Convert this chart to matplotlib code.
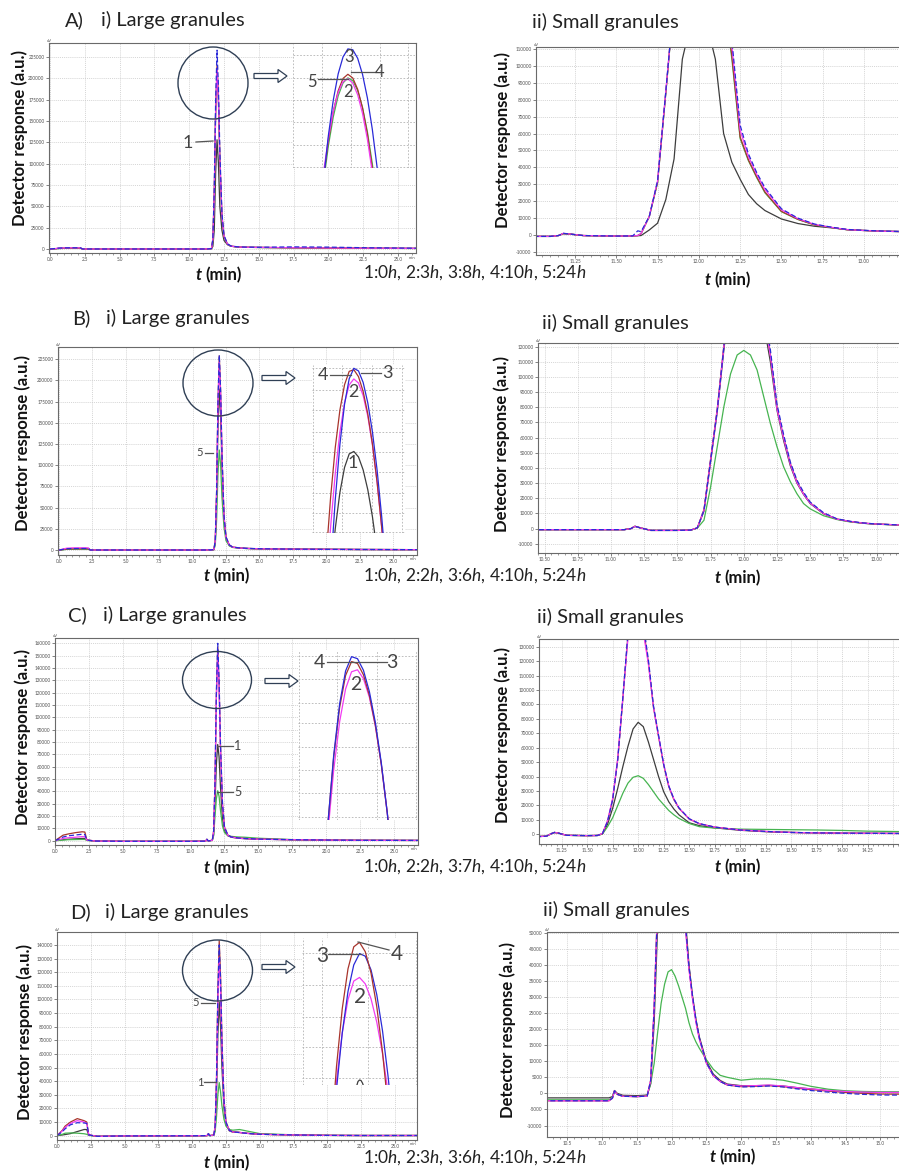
import matplotlib
matplotlib.use("Agg")
import matplotlib.pyplot as plt
import matplotlib.patches as mpatches
from matplotlib.ticker import MultipleLocator, FormatStrFormatter, FuncFormatter

plt.rcParams['font.family'] = ['Lato', 'DejaVu Sans']
plt.rcParams['mathtext.fontset'] = 'custom'
plt.rcParams['mathtext.rm'] = 'Lato'
plt.rcParams['mathtext.it'] = 'Lato:italic'
plt.rcParams['mathtext.bf'] = 'Lato:bold'

# ---------------------------------------------------------------- data
# series keys: 1 = 0 h (black), 2 = pink, 3 = blue, 4 = red, 5 = green
legend_A = r"1:0$h$, 2:3$h$, 3:8$h$, 4:10$h$, 5:24$h$"
legend_B = r"1:0$h$, 2:2$h$, 3:6$h$, 4:10$h$, 5:24$h$"
legend_C = r"1:0$h$, 2:2$h$, 3:7$h$, 4:10$h$, 5:24$h$"
legend_D = r"1:0$h$, 2:3$h$, 3:6$h$, 4:10$h$, 5:24$h$"

# ---- large granules (full run, 0-27 min)
t_large = [0.0, 0.4, 0.6, 1.0, 1.5, 2.0, 2.2, 2.35, 3.0, 5.0, 10.0, 11.1, 11.2, 11.3, 11.6, 11.7,
           11.8, 11.9, 12.0, 12.1, 12.2, 12.35, 12.5, 12.75, 13.0, 13.5, 14.0, 15.0, 17.5, 20.0, 22.5, 27.0]

A_L_black = [0, 300, 500, 700, 800, 800, 700, 0, 0, 0, 0, 0, 200, 0, 300, 3000, 22000, 90000, 128000, 100000, 50000, 22000, 10000, 5000, 3200, 2300, 2000, 1800, 1400, 1100, 900, 600]
A_L_pink = [0, 500, 900, 1200, 1300, 1300, 1200, 0, 0, 0, 0, 0, 200, 0, 400, 11000, 64000, 160000, 212000, 174000, 107000, 40000, 15000, 5800, 3400, 2400, 2100, 1900, 1500, 1200, 1000, 700]
A_L_blue = [0, 600, 1000, 1300, 1400, 1400, 1300, 0, 0, 0, 0, 0, 300, 0, 500, 12000, 70000, 175000, 233000, 190000, 115000, 42000, 16000, 6000, 3500, 2500, 2200, 2000, 2500, 2200, 1500, 800]
A_L_red = [0, 400, 800, 1000, 1100, 1100, 1000, 0, 0, 0, 0, 0, 200, 0, 400, 11000, 65000, 162000, 215000, 176000, 106000, 39000, 14500, 5600, 3300, 2300, 2000, 1800, 1400, 1100, 900, 600]
A_L_green = [0, 300, 600, 800, 900, 900, 800, 0, 0, 0, 0, 0, 200, 0, 400, 11000, 64000, 160000, 212500, 173000, 105000, 39000, 14500, 5600, 3300, 2300, 2000, 1800, 1400, 1100, 900, 600]

B_L_black = [0, 600, 1000, 1200, 1300, 1300, 1200, 0, 0, 0, 0, 0, 300, 0, 400, 10000, 60000, 145000, 190000, 158000, 98000, 37000, 14000, 5500, 3300, 2300, 1800, 1400, 1000, 800, 600, 400]
B_L_pink = [0, 1500, 2200, 2500, 2600, 2600, 2500, 0, 0, 0, 0, 0, 400, 0, 500, 11500, 67000, 168000, 222000, 182000, 110000, 40000, 15000, 5800, 3400, 2400, 1900, 1400, 1000, 800, 600, 400]
B_L_blue = [0, 1000, 1500, 1700, 1800, 1800, 1700, 0, 0, 0, 0, 0, 400, 0, 500, 12000, 70000, 175000, 230000, 188000, 114000, 41000, 15500, 6000, 3500, 2500, 2000, 1500, 1000, 800, 600, 400]
B_L_red = [0, 800, 1200, 1400, 1500, 1500, 1400, 0, 0, 0, 0, 0, 400, 0, 500, 12000, 70000, 174000, 229000, 186000, 112000, 40500, 15200, 5900, 3400, 2400, 1900, 1400, 1000, 800, 600, 400]
B_L_green = [0, 500, 800, 1000, 1100, 1100, 1000, 0, 0, 0, 0, 0, 300, 0, 300, 6000, 36000, 90000, 118000, 100000, 62000, 27000, 11000, 4800, 3000, 2200, 1800, 1400, 1000, 800, 600, 400]

C_L_black = [0, 500, 800, 1200, 1500, 1800, 1800, 300, -300, -500, -500, -400, 800, -200, 300, 5000, 30000, 62000, 78000, 68000, 44000, 18000, 8000, 4000, 2800, 2000, 1600, 1200, 700, 400, 300, 200]
C_L_pink = [0, 1200, 1800, 2400, 2800, 3300, 3200, 400, -300, -500, -500, -400, 1000, -200, 300, 7500, 46000, 114000, 152000, 124000, 76000, 29000, 10500, 4400, 2900, 2100, 1700, 1200, 800, 500, 300, 200]
C_L_blue = [0, 2000, 3000, 4000, 4600, 5200, 5000, 500, -300, -500, -500, -400, 1200, -200, 300, 8000, 49000, 120000, 160000, 130000, 80000, 30500, 11000, 4500, 3000, 2200, 1800, 1300, 800, 500, 300, 200]
C_L_red = [0, 3000, 4500, 5500, 6500, 7200, 7000, 600, -300, -500, -500, -400, 1200, -200, 300, 8000, 48000, 118000, 157000, 128000, 78000, 30000, 11000, 4500, 3000, 2200, 1800, 1300, 800, 500, 300, 200]
C_L_green = [0, 300, 500, 800, 900, 1000, 1000, 200, -300, -500, -500, -400, 600, -200, 200, 4000, 20000, 34000, 40500, 36000, 25000, 12000, 6500, 4000, 3500, 3000, 2800, 2000, 900, 500, 300, 200]

D_L_black = [0, 500, 800, 1500, 3000, 4500, 4500, 400, -500, -200, -100, 0, 1200, 0, 400, 5000, 30000, 74000, 98000, 80000, 50000, 20000, 8000, 3500, 2600, 2300, 1700, 1000, 500, 200, 100, 100]
D_L_pink = [0, 3500, 6000, 9000, 11000, 10000, 9000, 500, -500, -200, -100, 0, 1400, 0, 500, 6500, 39000, 98000, 131000, 107000, 65000, 25000, 9500, 3800, 2700, 2300, 1700, 1000, 500, 200, 100, 100]
D_L_blue = [0, 3000, 5000, 8000, 9500, 9300, 9000, 500, -500, -200, -100, 0, 1500, 0, 500, 7000, 42000, 105000, 140000, 114000, 69000, 26000, 9800, 3900, 2700, 2300, 1700, 1000, 500, 200, 100, 100]
D_L_red = [0, 4000, 7000, 10000, 12500, 11000, 10000, 500, -500, -200, -100, 0, 1500, 0, 500, 7000, 43000, 107000, 143000, 117000, 71000, 27000, 10000, 4000, 2800, 2400, 1800, 1000, 500, 200, 100, 100]
D_L_green = [0, 1000, 1800, 2000, 1800, 1400, 1000, 200, -500, -200, -100, 0, 800, 0, 300, 3000, 14000, 30000, 39000, 32000, 22000, 12000, 7000, 4500, 4000, 4500, 3500, 1500, 600, 200, 100, 100]

# ---- small granules (zoomed around the peak)
t_A_small = [11.00, 11.10, 11.15, 11.18, 11.22, 11.30, 11.50, 11.60, 11.63, 11.65, 11.70, 11.75, 11.80, 11.85, 11.90, 11.95, 12.00,
             12.05, 12.10, 12.15, 12.20, 12.25, 12.30, 12.35, 12.40, 12.50, 12.60, 12.70, 12.80, 12.90, 13.00, 13.10, 13.35]
A_S_black = [-800, -800, -300, 800, 500, -300, -600, -500, -400, -300, 3000, 7000, 21000, 45000, 104000, 125000, 128000, 124000, 104000, 60000, 43000, 33000, 24000, 18500, 14500, 9500, 6800, 5200, 4300, 3200, 2700, 2300, 1800]
A_S_pink = [-800, -800, -300, 1000, 600, -300, -600, -500, -300, 800, 11000, 32000, 85000, 140000, 180000, 205000, 212000, 207000, 185000, 148000, 112000, 62000, 46500, 36000, 27000, 15000, 9700, 6300, 4600, 3200, 2700, 2300, 1800]
A_S_blue = [-800, -800, -300, 1000, 600, -300, -600, -500, 2500, 2000, 11000, 32000, 85000, 140000, 185000, 220000, 233000, 228000, 200000, 155000, 115000, 65000, 48000, 37000, 28000, 15500, 10000, 6500, 4700, 3300, 2800, 2400, 1800]
A_S_red = [-800, -800, -300, 900, 600, -300, -600, -500, -300, 800, 11000, 31000, 84000, 140000, 182000, 208000, 215000, 208000, 183000, 145000, 106000, 58000, 44500, 34500, 25500, 14000, 9300, 6000, 4500, 3100, 2700, 2300, 1800]
A_S_green = [-800, -800, -300, 900, 600, -300, -600, -500, -300, 800, 11000, 31000, 84000, 139000, 180000, 205000, 212500, 206000, 181000, 143000, 104000, 57000, 44000, 34000, 25000, 13800, 9200, 6000, 4500, 3100, 2700, 2300, 1800]

t_B_small = [10.40, 10.75, 11.00, 11.10, 11.15, 11.18, 11.22, 11.30, 11.50, 11.60, 11.65, 11.70, 11.75, 11.80, 11.85, 11.90, 11.95,
             12.00, 12.05, 12.10, 12.15, 12.20, 12.25, 12.30, 12.35, 12.40, 12.45, 12.50, 12.60, 12.70, 12.80, 12.90, 13.00, 13.35]
B_S_black = [-700, -700, -700, -700, 0, 1500, 500, -1200, -1200, -1000, 400, 11500, 44000, 77000, 118000, 155000, 180000, 190000, 180000, 165000, 135000, 110000, 78000, 58000, 41500, 30000, 22500, 16500, 9800, 6200, 4600, 3500, 2900, 1800]
B_S_pink = [-700, -700, -700, -700, 0, 1500, 500, -1200, -1200, -1000, 500, 12000, 45000, 78000, 120000, 162000, 200000, 222000, 208000, 180000, 141000, 114000, 79000, 59500, 42500, 30500, 22800, 16800, 10000, 6300, 4700, 3600, 3000, 1800]
B_S_blue = [-700, -700, -700, -700, 0, 1500, 500, -1200, -1200, -1000, 500, 12000, 45000, 78000, 120000, 165000, 205000, 230000, 215000, 185000, 145000, 118000, 82000, 62000, 44000, 32000, 24000, 17500, 10500, 6500, 4800, 3700, 3000, 1800]
B_S_red = [-700, -700, -700, -700, 0, 1500, 500, -1200, -1200, -1000, 500, 12500, 46000, 79000, 121000, 165000, 205000, 229000, 213000, 182000, 142000, 115000, 80000, 60000, 43000, 31000, 23000, 17000, 10000, 6300, 4700, 3600, 3000, 1800]
B_S_green = [-700, -700, -700, -700, 0, 1500, 500, -1200, -1200, -1000, 300, 5500, 27500, 54000, 80400, 102000, 114500, 117500, 114500, 104600, 87000, 69400, 54000, 40700, 31000, 23000, 16500, 13000, 8500, 6000, 4400, 3500, 2900, 1900]

t_C_small = [11.00, 11.10, 11.15, 11.18, 11.22, 11.30, 11.50, 11.60, 11.65, 11.70, 11.75, 11.80, 11.85, 11.90, 11.95, 12.00, 12.05,
             12.10, 12.15, 12.20, 12.25, 12.30, 12.35, 12.40, 12.50, 12.60, 12.75, 13.00, 13.25, 13.50, 13.75, 14.00, 14.25, 14.80]
C_S_black = [-1600, -1300, 500, 1300, 800, -700, -900, -800, 300, 7000, 18000, 32000, 47000, 61000, 73000, 77600, 74600, 64000, 52000, 40000, 29500, 22500, 17500, 13500, 8000, 6000, 4500, 2800, 1800, 1300, 1000, 800, 700, 600]
C_S_pink = [-1600, -1300, 500, 1300, 800, -700, -900, -800, 600, 9500, 25000, 53000, 95000, 136000, 148000, 152000, 140000, 118000, 88000, 68000, 48500, 33500, 24500, 18200, 10700, 7400, 5000, 3000, 2000, 1300, 1000, 800, 700, 500]
C_S_blue = [-1600, -1300, 500, 1300, 800, -700, -900, -800, 500, 9000, 24000, 52000, 95000, 140000, 155000, 160000, 146000, 121000, 89000, 68500, 48500, 33500, 24500, 18300, 10800, 7400, 5000, 3000, 2000, 1300, 1000, 800, 700, 500]
C_S_red = [-1600, -1300, 500, 1300, 800, -700, -900, -800, 500, 9000, 24000, 52000, 94000, 138000, 152000, 157000, 143000, 119000, 88000, 67500, 48000, 33000, 24000, 18000, 10600, 7300, 5000, 3000, 2000, 1300, 1000, 800, 700, 500]
C_S_green = [-1600, -1300, 500, 1300, 800, -700, -900, -800, 200, 5300, 11500, 20000, 28500, 35500, 39500, 40600, 38800, 34500, 29500, 24500, 20500, 16500, 13500, 11000, 7500, 5300, 4300, 3600, 3400, 3200, 3000, 2700, 2200, 1700]

t_D_small = [10.15, 11.00, 11.10, 11.15, 11.18, 11.22, 11.30, 11.50, 11.60, 11.65, 11.70, 11.75, 11.80, 11.85, 11.90, 11.95, 12.00,
             12.05, 12.10, 12.15, 12.20, 12.25, 12.30, 12.35, 12.40, 12.50, 12.60, 12.70, 12.80, 13.00, 13.20, 13.40, 13.60, 13.80,
             14.00, 14.25, 14.50, 14.75, 15.00, 15.60]
D_S_black = [-1400, -1400, -1400, -1000, 900, 0, -600, -700, -600, -500, 3000, 22000, 52000, 75000, 90000, 97000, 98000, 92000, 80000, 66000, 54000, 40000, 30500, 23000, 17500, 10000, 6000, 4000, 2900, 2400, 2400, 2500, 2300, 1800, 1400, 900, 600, 400, 300, 200]
D_S_pink = [-2300, -2300, -2300, -1500, 800, -300, -900, -1000, -900, -800, 4100, 27000, 58000, 86000, 108000, 123000, 131000, 123000, 105000, 78000, 51000, 38500, 29500, 22000, 16800, 9400, 5500, 3700, 2700, 2300, 2400, 2600, 2300, 1800, 1400, 900, 600, 400, 300, 300]
D_S_blue = [-2300, -2300, -2300, -1500, 800, -300, -900, -1000, -900, -800, 4000, 26500, 59000, 90000, 115000, 131000, 140000, 131000, 111000, 81000, 52500, 39500, 30500, 23000, 17200, 9600, 5600, 3700, 2600, 2000, 2100, 2300, 2000, 1400, 900, 400, 0, -300, -500, -600]
D_S_red = [-2300, -2300, -2300, -1500, 800, -300, -900, -1000, -900, -800, 4100, 27000, 60000, 92000, 118000, 134000, 143000, 133000, 112000, 81000, 52000, 39000, 30000, 22500, 17000, 9500, 5500, 3700, 2600, 2100, 2200, 2400, 2100, 1600, 1200, 700, 300, 0, -200, -300]
D_S_green = [-2000, -2000, -2000, -1400, 600, -300, -900, -1000, -900, -500, 3000, 9300, 19000, 28000, 34000, 37800, 38500, 36500, 33500, 30000, 26500, 22000, 18500, 16000, 14000, 10500, 7500, 5600, 5000, 4100, 4500, 4500, 4100, 3200, 2200, 1300, 800, 600, 500, 500]

# ---- magnified peak tops (insets of the large-granule panels)
ins_t_A = [11.950, 11.958, 11.966, 11.974, 11.982, 11.990, 11.998, 12.006, 12.014, 12.022, 12.030, 12.038, 12.046]
ins_A_pink = [146700, 170700, 189300, 202300, 209900, 212000, 208800, 200800, 187800, 169800, 146900, 120000, 90000]
ins_A_green = [139750, 165400, 185400, 200000, 209000, 212500, 210600, 203700, 191800, 175000, 153100, 126200, 95000]
ins_A_red = [143000, 168900, 189100, 203500, 212100, 215000, 212400, 204600, 191600, 173400, 150000, 121400, 90000]
ins_A_blue = [141700, 172500, 197000, 215200, 227000, 232600, 232000, 226100, 214900, 198500, 176900, 150000, 117700]

ins_t_B = [11.930, 11.940, 11.950, 11.960, 11.970, 11.980, 11.990, 12.000, 12.010, 12.020, 12.030, 12.040, 12.050, 12.060]
ins_B_black = [100000, 128800, 152100, 169800, 182000, 188600, 189800, 187100, 180800, 171100, 157900, 141200, 121100, 100000]
ins_B_pink = [121100, 152900, 178900, 199200, 213600, 222300, 225200, 223200, 217100, 207000, 192900, 174700, 152500, 126200]
ins_B_red = [137200, 167400, 191700, 210000, 222400, 228900, 229700, 226300, 219100, 208100, 193400, 174800, 152500, 126300]
ins_B_blue = [90400, 132000, 166200, 193200, 212900, 225300, 230400, 229100, 223500, 213500, 199300, 180700, 157700, 130400]

ins_t_C = [11.910, 11.925, 11.940, 11.955, 11.970, 11.985, 12.000, 12.015, 12.030, 12.045, 12.060, 12.075, 12.090]
ins_C_pink = [-44300, 18800, 69700, 108100, 134100, 147700, 149300, 142200, 127400, 104600, 74100, 35700, -8000]
ins_C_red = [-43000, 26000, 79900, 119500, 144800, 155800, 154300, 145300, 128900, 105200, 74100, 35700, -10000]
ins_C_blue = [-44000, 25800, 81400, 122300, 148400, 159700, 158100, 148900, 131900, 107500, 75400, 35900, -11300]

ins_t_D = [11.925, 11.940, 11.955, 11.970, 11.985, 12.000, 12.015, 12.030, 12.045, 12.060, 12.075, 12.090]
ins_D_pink = [25600, 62200, 90100, 109400, 120100, 122200, 118500, 109900, 96400, 78200, 55000, 25000]
ins_D_blue = [16400, 57600, 90100, 114100, 129400, 136000, 134500, 126600, 112300, 91400, 64100, 30400]
ins_D_red = [26900, 70700, 104100, 127200, 139900, 142500, 137100, 124800, 105400, 79100, 45900, 10000]
ins_t_D_grey = [11.992, 11.996, 12.000, 12.004, 12.008, 12.012]
ins_D_grey = [59000, 62000, 62900, 62600, 61000, 58500]

# ---------------------------------------------------------------- figure
W, H = 899, 1171
fig = plt.figure(figsize=(W / 100, H / 100), dpi=100)
fig.patch.set_facecolor('white')

COL = {1: '#3d3d3d', 2: '#f23cf2', 3: '#2a2ad8', 4: '#a8342c', 5: '#46b450'}


def rect(l, t, r, b):
    return [l / W, 1 - b / H, (r - l) / W, (b - t) / H]


def tick_fmt(fmt, vmax):
    return FuncFormatter(lambda v, p: '' if v > vmax else fmt % v)


def main_panel(box, xlim, ylim, xmaj, xmin, ymaj, xfmt, t, curves, min_label, label_max=None):
    ax = fig.add_axes(rect(*box), zorder=1)
    ax.set_xlim(*xlim)
    ax.set_ylim(*ylim)
    ax.xaxis.set_major_locator(MultipleLocator(xmaj))
    ax.xaxis.set_minor_locator(MultipleLocator(xmin))
    ax.yaxis.set_major_locator(MultipleLocator(ymaj))
    ax.xaxis.set_major_formatter(tick_fmt(xfmt, label_max if label_max is not None else xlim[1]))
    ax.yaxis.set_major_formatter(FormatStrFormatter('%d'))
    ax.tick_params(which='major', labelsize=3.3, length=2, width=0.5, pad=1.2, colors='#505050')
    ax.tick_params(which='minor', length=1.2, width=0.4, colors='#505050')
    ax.grid(True, which='major', color='#c6c6c6', ls=(0, (1.5, 1.5)), lw=0.5)
    for s in ax.spines.values():
        s.set_color('#6a6a6a')
        s.set_linewidth(0.8)
    for key, ys in curves:
        if key == 3:
            ax.plot(t, ys, color=COL[3], lw=0.9, ls=(0, (4, 2)))
        else:
            ax.plot(t, ys, color=COL[key], lw=0.9)
    ax.text(0.0, 1.0, 'uV', transform=ax.transAxes, fontsize=3, ha='center', va='bottom', color='#505050')
    if min_label:
        ax.text(0.99, -0.012, 'min', transform=ax.transAxes, fontsize=3, ha='center', va='top', color='#505050')
    return ax


def inset(box, xlim, ylim, t, curves, gx, gy, extra=None):
    l, tp, r, b = box
    ax = fig.add_axes(rect(*box), zorder=5)
    ax.set_xlim(*xlim)
    ax.set_ylim(*ylim)
    ax.set_facecolor('white')
    for s in ax.spines.values():
        s.set_visible(False)
    ax.set_xticks([xlim[0] + (g - l) / (r - l) * (xlim[1] - xlim[0]) for g in gx])
    ax.set_yticks([ylim[0] + (b - g) / (b - tp) * (ylim[1] - ylim[0]) for g in gy])
    ax.tick_params(length=0, labelbottom=False, labelleft=False)
    ax.grid(True, color='#b3b3b3', ls=(0, (2, 2)), lw=0.6)
    for key, ys in curves:
        ax.plot(t, ys, color=COL[key], lw=0.9)
    if extra is not None:
        ax.plot(extra[0], extra[1], color=COL[1], lw=0.9)
    return ax


# ---- row A
main_panel((49, 43, 416, 253), (-0.07, 26.29), (-4700, 241400), 2.5, 0.5, 25000, '%.1f', t_large,
           [(1, A_L_black), (5, A_L_green), (4, A_L_red), (2, A_L_pink), (3, A_L_blue)], True)
main_panel((536, 47, 920, 255), (11.014, 13.339), (-11800, 111200), 0.25, 0.05, 10000, '%.2f', t_A_small,
           [(1, A_S_black), (5, A_S_green), (4, A_S_red), (2, A_S_pink), (3, A_S_blue)], False, 13.1)
inset((293, 44, 415, 168), (11.90, 12.10), (150000, 236000), ins_t_A,
      [(5, ins_A_green), (4, ins_A_red), (2, ins_A_pink), (3, ins_A_blue)],
      [293, 322, 351, 380, 408], [55, 78, 100, 122, 145, 167])

# ---- row B
main_panel((58, 347, 417, 555), (-0.075, 26.8), (-5900, 239500), 2.5, 0.5, 25000, '%.1f', t_large,
           [(1, B_L_black), (5, B_L_green), (4, B_L_red), (2, B_L_pink), (3, B_L_blue)], True)
main_panel((538, 343, 920, 553), (10.45, 13.327), (-16100, 122400), 0.25, 0.05, 10000, '%.2f', t_B_small,
           [(1, B_S_black), (5, B_S_green), (4, B_S_red), (2, B_S_pink), (3, B_S_blue)], False, 13.1)
inset((312, 365, 405, 533), (11.90, 12.10), (150000, 232000), ins_t_B,
      [(1, ins_B_black), (2, ins_B_pink), (4, ins_B_red), (3, ins_B_blue)],
      [313, 342, 372, 402], [368, 390, 410, 432, 452, 472, 493, 513, 532])

# ---- row C
main_panel((55, 638, 418, 845), (0.0, 26.77), (-3500, 164300), 2.5, 0.5, 10000, '%.1f', t_large,
           [(1, C_L_black), (5, C_L_green), (4, C_L_red), (2, C_L_pink), (3, C_L_blue)], True)
main_panel((539, 639, 920, 844), (11.028, 14.762), (-6700, 135300), 0.25, 0.05, 10000, '%.2f', t_C_small,
           [(1, C_S_black), (5, C_S_green), (4, C_S_red), (2, C_S_pink), (3, C_S_blue)], False, 14.3)
inset((298, 650, 417, 820), (11.85, 12.15), (30000, 165000), ins_t_C,
      [(2, ins_C_pink), (4, ins_C_red), (3, ins_C_blue)],
      [299, 337, 377, 416], [656, 679, 703, 723, 747, 770, 793, 817])

# ---- row D
main_panel((57, 932, 417, 1140), (0.0, 26.63), (-3200, 149500), 2.5, 0.5, 10000, '%.1f', t_large,
           [(1, D_L_black), (5, D_L_green), (4, D_L_red), (2, D_L_pink), (3, D_L_blue)], True)
main_panel((547, 932, 920, 1137), (10.21, 15.57), (-13570, 50200), 0.5, 0.1, 5000, '%.1f', t_D_small,
           [(1, D_S_black), (5, D_S_green), (4, D_S_red), (2, D_S_pink), (3, D_S_blue)], False, 15.2)
inset((302, 938, 417, 1085), (11.85, 12.15), (60000, 145000), ins_t_D,
      [(2, ins_D_pink), (3, ins_D_blue), (4, ins_D_red)],
      [303, 322, 368, 416], [953, 985, 1017, 1047, 1078], extra=(ins_t_D_grey, ins_D_grey))

# ---------------------------------------------------------------- annotations (pixel overlay)
ov = fig.add_axes([0, 0, 1, 1], zorder=10)
ov.set_xlim(0, W)
ov.set_ylim(H, 0)
ov.patch.set_visible(False)
ov.axis('off')

EDGE = '#2f3f55'
for cx, cy, w, h in [(213, 83, 70, 72), (218, 383, 70, 66), (217, 680, 69, 57), (217.5, 970.5, 70, 61)]:
    ov.add_patch(mpatches.Ellipse((cx, cy), w, h, fill=False, ec=EDGE, lw=1.0))
for x0, x1, y in [(254, 287, 76), (262, 295, 378), (265, 298, 681), (262, 295, 967)]:
    ov.add_patch(mpatches.FancyArrow(x0, y, x1 - x0, 0, width=5, head_width=13, head_length=9,
                                     length_includes_head=True, fc='white', ec=EDGE, lw=0.9))

# curve number labels and leader lines
LBL = '#454545'
labels = [
    ('1', 188, 143, 13), ('3', 349, 57, 12), ('4', 380, 72, 12), ('5', 312, 82, 12), ('2', 348, 92, 12),
    ('5', 200, 453, 8), ('4', 323, 375, 13), ('3', 387, 373, 13), ('2', 353, 392, 13), ('1', 353, 463, 13),
    ('1', 238, 746, 9), ('5', 238, 792, 9), ('4', 319, 662, 14), ('3', 392, 662, 14), ('2', 356, 685, 14),
    ('5', 196, 1003, 8), ('1', 200, 1083, 8), ('3', 322, 956, 15), ('4', 397, 954, 15), ('2', 360, 997, 15),
]
for s, x, y, fs in labels:
    ov.text(x, y, s, fontsize=fs, color=LBL, ha='center', va='center')
leaders = [
    ((196, 213), (142, 141)), ((351, 375), (72, 72)), ((318, 348), (79, 79)),
    ((205, 213), (453, 453)), ((330, 351), (375, 375)), ((361, 381), (373, 373)),
    ((217, 233), (746, 746)), ((217, 233), (792, 792)), ((327, 387), (662, 662)),
    ((201, 215), (1003, 1003)), ((204, 216), (1082, 1082)), ((328, 361), (954, 954)), ((358, 389), (942, 950)),
]
for xs, ys in leaders:
    ov.plot(xs, ys, color='#555555', lw=0.9)

# titles
titles = [
    ('A)', 65, 20), ('i) Large granules', 101, 20), ('ii) Small granules', 532, 22),
    ('B)', 72, 318), ('i) Large granules', 106, 318), ('ii) Small granules', 542, 323),
    ('C)', 68, 615), ('i) Large granules', 103, 615), ('ii) Small granules', 537, 617),
    ('D)', 70, 912), ('i) Large granules', 105, 912), ('ii) Small granules', 543, 910),
]
for s, x, y in titles:
    ov.text(x, y, s, fontsize=14.5, color='#222222', ha='left', va='center')

# y labels
for x, y in [(20, 138), (503, 140), (23, 443), (502, 444), (23, 737), (503, 735), (25, 1032), (508, 1030)]:
    ov.text(x, y, 'Detector response (a.u.)', fontsize=12, fontweight='bold', color='#111111',
            rotation=90, ha='center', va='center')

# x labels
for cx, y in [(219, 275), (728, 280), (227, 576), (738, 578), (227, 868), (738, 867), (227, 1163), (733, 1157)]:
    ov.text(cx - 17, y, 't', fontsize=12, fontweight='bold', fontstyle='italic', color='#111111',
            ha='right', va='center')
    ov.text(cx - 14, y, '(min)', fontsize=12, fontweight='bold', color='#111111', ha='left', va='center')

# legends
for s, y in [(legend_A, 273), (legend_B, 576), (legend_C, 867), (legend_D, 1158)]:
    ov.text(363, y, s, fontsize=12.5, color='#222222', ha='left', va='center')

fig.savefig('out.png', dpi=100, facecolor='white')
